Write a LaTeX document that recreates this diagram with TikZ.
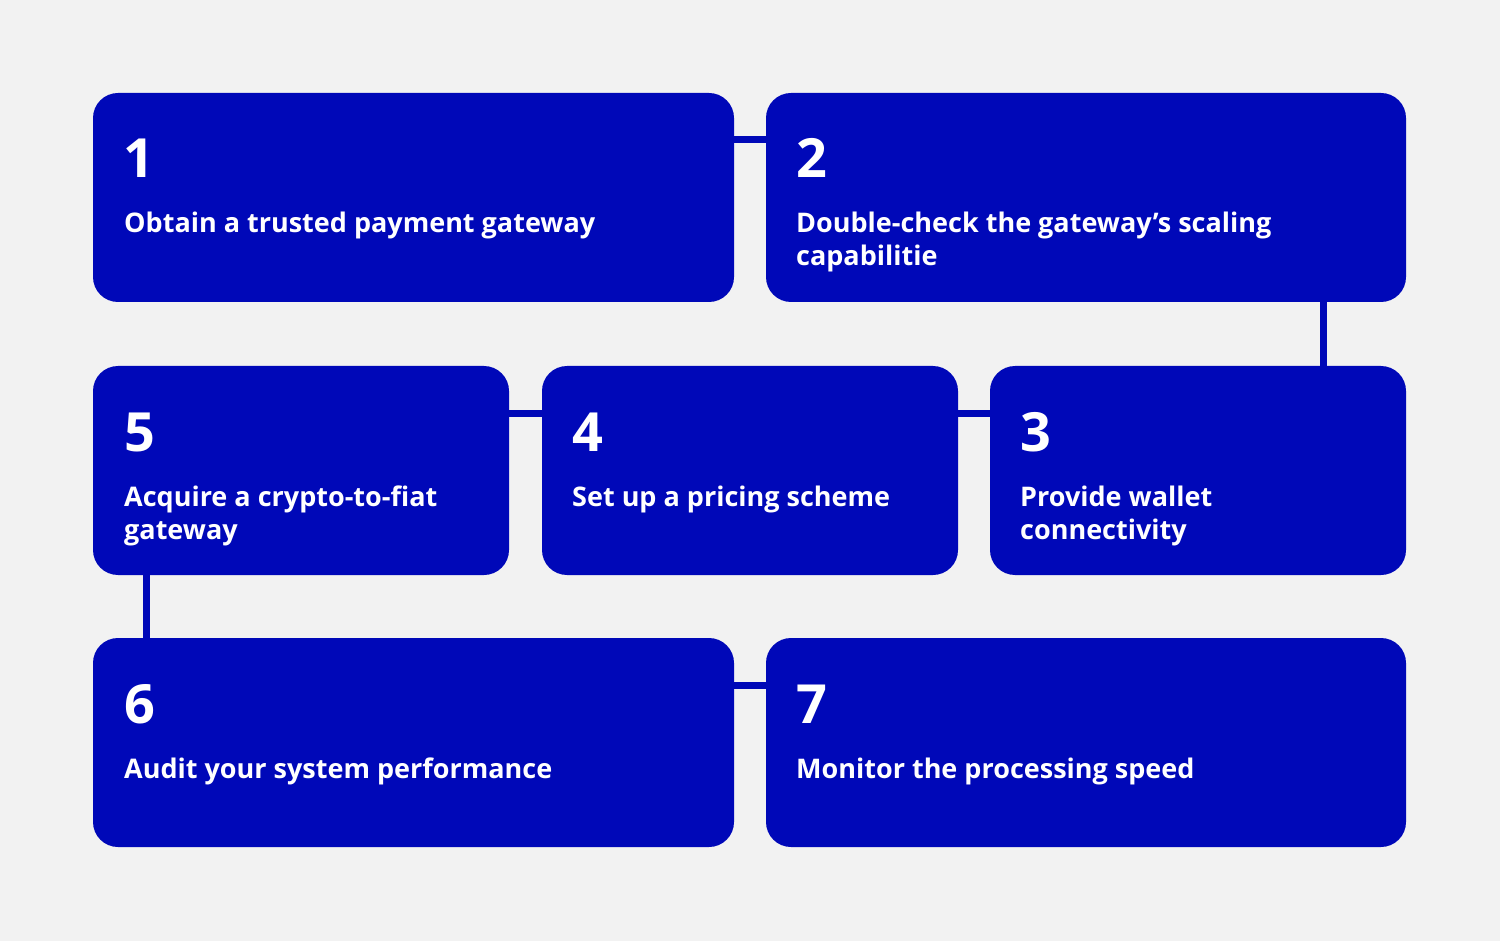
\documentclass[tikz,border=0pt]{standalone}
\usepackage{fontspec}
\setmainfont{Open Sans}
\definecolor{bx}{HTML}{0008B8}
\definecolor{bg}{HTML}{F2F2F2}
\begin{document}
\begin{tikzpicture}[x=1pt,y=-1pt,
  box/.style={fill=bx,rounded corners=25pt},
  conn/.style={draw=bx,line width=7pt},
  num/.style={anchor=base west,text=white,font=\fontsize{54}{54}\selectfont\bfseries,inner sep=0pt},
  lab/.style={anchor=base west,text=white,font=\fontsize{27}{33}\selectfont\bfseries,inner sep=0pt,align=left}]
\fill[bg] (0,0) rectangle (1500,941);
\useasboundingbox (0,0) rectangle (1500,941);
\coordinate (c12a) at (734,140); \coordinate (c12b) at (766,140);
\coordinate (c23a) at (1323,302); \coordinate (c23b) at (1323,366);
\coordinate (c54a) at (509,413); \coordinate (c54b) at (542,413);
\coordinate (c43a) at (958,413); \coordinate (c43b) at (990,413);
\coordinate (c56a) at (146,575); \coordinate (c56b) at (146,638);
\coordinate (c67a) at (734,685); \coordinate (c67b) at (766,685);
\draw[conn] (c12a)--(c12b); \draw[conn] (c23a)--(c23b);
\draw[conn] (c54a)--(c54b); \draw[conn] (c43a)--(c43b);
\draw[conn] (c56a)--(c56b); \draw[conn] (c67a)--(c67b);
\fill[box] (93,93) rectangle (734,302);
\fill[box] (766,93) rectangle (1406,302);
\fill[box] (93,366) rectangle (509,575);
\fill[box] (542,366) rectangle (958,575);
\fill[box] (990,366) rectangle (1406,575);
\fill[box] (93,638) rectangle (734,847);
\fill[box] (766,638) rectangle (1406,847);
\node[num] (n1) at (123,178) {1};
\node[lab] (l1) at (124,233) {Obtain a trusted payment gateway};
\node[num] (n2) at (796,178) {2};
\node[lab] (l2) at (796,266) {Double-check the gateway's scaling\\capabilitie};
\node[num] (n5) at (124,451) {5};
\node[lab] (l5) at (124,539) {Acquire a crypto-to-fiat\\gateway};
\node[num] (n4) at (572,451) {4};
\node[lab] (l4) at (572,506) {Set up a pricing scheme};
\node[num] (n3) at (1020,451) {3};
\node[lab] (l3) at (1020,539) {Provide wallet\\connectivity};
\node[num] (n6) at (124,723) {6};
\node[lab] (l6) at (124,778) {Audit your system performance};
\node[num] (n7) at (796,723) {7};
\node[lab] (l7) at (796,778) {Monitor the processing speed};
\end{tikzpicture}
\end{document}
